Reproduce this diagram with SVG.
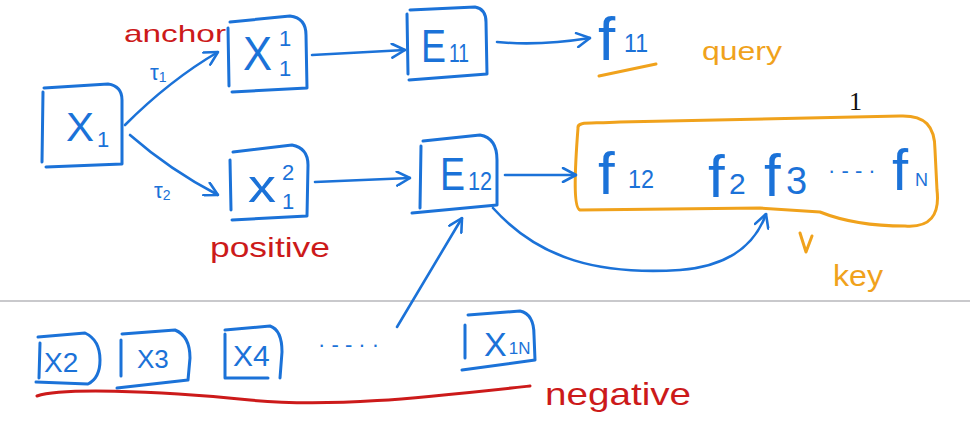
<svg xmlns="http://www.w3.org/2000/svg" width="970" height="424" viewBox="0 0 970 424">
<style>
.bx{fill:none;stroke:#1b72d8;stroke-width:3;stroke-linecap:round;stroke-linejoin:round}
.ln{fill:none;stroke:#1b72d8;stroke-width:2.6;stroke-linecap:round}
.bt{fill:#1b72d8;font-family:"Liberation Sans",Arial,sans-serif}
.rt{fill:#cc1a1a;font-family:"Liberation Sans",Arial,sans-serif}
.ot{fill:#f0a21c;font-family:"Liberation Sans",Arial,sans-serif}
.ol{fill:none;stroke:#f0a21c;stroke-width:3;stroke-linecap:round;stroke-linejoin:round}
.rl{fill:none;stroke:#cc1a1a;stroke-width:3;stroke-linecap:round}
</style>
<defs>
<marker id="ah" viewBox="0 0 16 16" refX="15" refY="8" markerWidth="16" markerHeight="16" markerUnits="userSpaceOnUse" orient="auto">
<path d="M2,1 L15,8 L2,15" fill="none" stroke="#1b72d8" stroke-width="2.6" stroke-linecap="round" stroke-linejoin="round"/>
</marker>
</defs>
<rect x="0" y="0" width="970" height="424" fill="#ffffff"/>
<line x1="0" y1="301" x2="970" y2="301" stroke="#c9c9cc" stroke-width="2"/>

<g id="X1">
<path class="bx" d="M44,88 L108,84 Q122,86 122,100 L122,164 L46,167 M43,92 L42,162"/>
<text class="bt" x="66" y="141" font-size="40" textLength="28" lengthAdjust="spacingAndGlyphs">X</text>
<text class="bt" x="97" y="147" font-size="22">1</text>
</g>
<g id="X11">
<path class="bx" d="M230,22 L290,16 Q306,18 306,35 L307,88 L232,92 M228,28 L229,86"/>
<text class="bt" x="243" y="70" font-size="48" textLength="29" lengthAdjust="spacingAndGlyphs">X</text>
<text class="bt" x="279" y="46" font-size="22">1</text>
<text class="bt" x="279" y="76" font-size="22">1</text>
</g>
<g id="X12">
<path class="bx" d="M233,152 L292,145 Q308,148 308,165 L307,216 L232,220 M230,160 L231,210"/>
<text class="bt" x="248" y="202" font-size="46" textLength="28" lengthAdjust="spacingAndGlyphs">x</text>
<text class="bt" x="282" y="180" font-size="22">2</text>
<text class="bt" x="282" y="209" font-size="22">1</text>
</g>
<g id="E11">
<path class="bx" d="M410,10 L475,7 Q486,9 486,22 L487,74 L409,80 M407,14 L408,74"/>
<text class="bt" x="421" y="62" font-size="46" textLength="25" lengthAdjust="spacingAndGlyphs">E</text>
<text class="bt" x="449" y="62" font-size="26" textLength="20" lengthAdjust="spacingAndGlyphs">11</text>
</g>
<g id="E12">
<path class="bx" d="M423,141 L480,135 Q497,138 497,160 L497,205 L412,213 M421,146 L420,208"/>
<text class="bt" x="440" y="190" font-size="46" textLength="25" lengthAdjust="spacingAndGlyphs">E</text>
<text class="bt" x="468" y="190" font-size="26" textLength="24" lengthAdjust="spacingAndGlyphs">12</text>
</g>
<g id="f11">
<text class="bt" x="598" y="60" font-size="62">f</text>
<text class="bt" x="624" y="52" font-size="26" textLength="24" lengthAdjust="spacingAndGlyphs">11</text>
<path class="ol" d="M599,76 L656,64"/>
<text class="ot" x="702" y="60" font-size="26" textLength="80" lengthAdjust="spacingAndGlyphs">query</text>
</g>
<g id="keys">
<path class="ol" d="M578,128 C577,121 590,124 620,122 L900,116 C925,115 935,126 935,150 L937,190 C940,215 930,228 905,226 C880,226 850,224 820,212 L760,208 L580,210 C574,208 574,180 578,128 Z"/>
<text class="bt" x="598" y="194" font-size="60">f</text>
<text class="bt" x="628" y="188" font-size="26" textLength="26" lengthAdjust="spacingAndGlyphs">12</text>
<text class="bt" x="708" y="197" font-size="60">f</text>
<text class="bt" x="729" y="194" font-size="30">2</text>
<text class="bt" x="764" y="196" font-size="60">f</text>
<text class="bt" x="786" y="194" font-size="38">3</text>
<text class="bt" x="828" y="178" font-size="22">· - - ·</text>
<text class="bt" x="892" y="190" font-size="58">f</text>
<text class="bt" x="915" y="186" font-size="18">N</text>
<text x="849" y="110" font-size="26" font-family="Liberation Serif,serif" fill="#111">1</text>
<path class="ol" d="M800,233 L806,252 L812,236"/>
<text class="ot" x="833" y="286" font-size="30" textLength="50" lengthAdjust="spacingAndGlyphs">key</text>
</g>
<g id="labels">
<text class="rt" x="124" y="42" font-size="24" textLength="102" lengthAdjust="spacingAndGlyphs">anchor</text>
<text class="rt" x="210" y="257" font-size="28" textLength="120" lengthAdjust="spacingAndGlyphs">positive</text>
<text class="bt" x="150" y="80" font-size="22">τ<tspan font-size="14" dy="2">1</tspan></text>
<text class="bt" x="154" y="198" font-size="22">τ<tspan font-size="14" dy="2">2</tspan></text>
</g>
<g id="X2">
<path class="bx" d="M38,337 L85,333 Q100,340 100,360 Q100,378 88,384 L36,382 M40,343 L39,378"/>
<text class="bt" x="44" y="372" font-size="28">X2</text>
</g>
<g id="X3">
<path class="bx" d="M122,334 L175,330 Q190,336 190,358 L188,380 L117,388 M121,340 L121,376"/>
<text class="bt" x="137" y="368" font-size="26">X3</text>
</g>
<g id="X4">
<path class="bx" d="M225,330 L270,326 Q282,330 282,352 L280,378 M225,334 L225,378 L268,378"/>
<text class="bt" x="233" y="366" font-size="30">X4</text>
</g>
<text class="bt" x="318" y="352" font-size="22">· - - ·  ·</text>
<g id="X1N">
<path class="bx" d="M468,315 L520,311 Q534,314 534,335 L535,360 L462,370 M465,325 L465,358"/>
<text class="bt" x="484" y="356" font-size="34">X<tspan font-size="17" dx="2" dy="-2">1N</tspan></text>
</g>
<g id="negatives">
<path class="rl" d="M37,396 C60,388 150,390 250,400 C330,408 420,398 530,386"/>
<text class="rt" x="545" y="405" font-size="32" textLength="146" lengthAdjust="spacingAndGlyphs">negative</text>
</g>
<g id="connectors">
<path class="ln" marker-end="url(#ah)" d="M125,125 Q170,80 218,52"/>
<path class="ln" marker-end="url(#ah)" d="M130,135 Q170,170 218,195"/>
<path class="ln" marker-end="url(#ah)" d="M312,55 L405,50"/>
<path class="ln" marker-end="url(#ah)" d="M497,42 Q540,46 590,38"/>
<path class="ln" marker-end="url(#ah)" d="M315,182 L410,178"/>
<path class="ln" marker-end="url(#ah)" d="M505,175 L576,175"/>
<path class="ln" marker-end="url(#ah)" d="M493,208 C540,260 600,275 680,270 C730,266 755,245 766,214"/>
<path class="ln" marker-end="url(#ah)" d="M397,327 L462,218"/>
</g>
</svg>
